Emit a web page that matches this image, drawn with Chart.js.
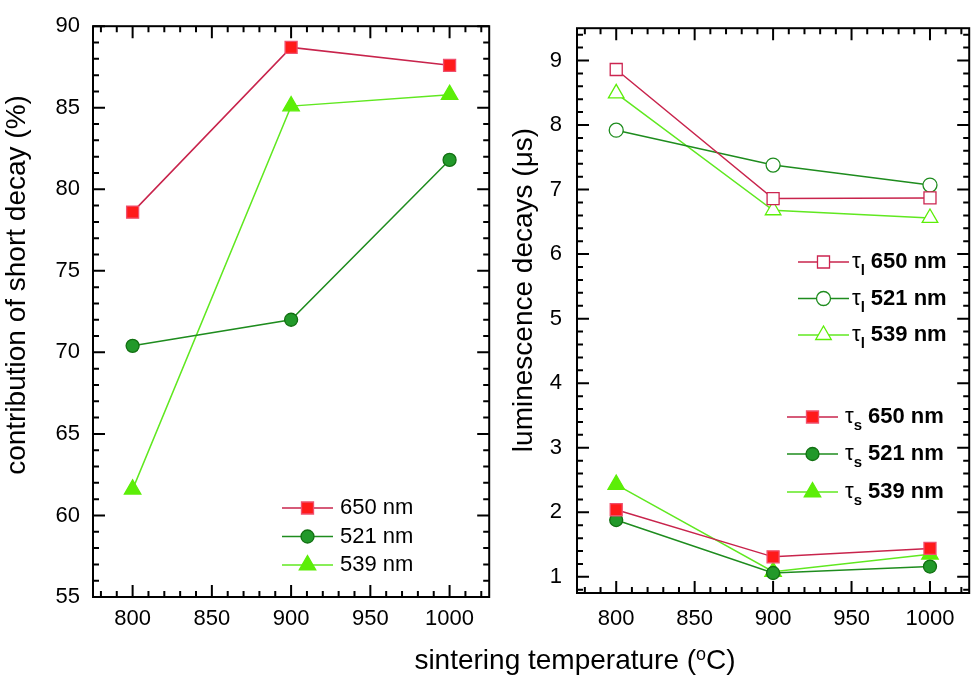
<!DOCTYPE html>
<html lang="en">
<head>
<meta charset="UTF-8">
<title>Decay vs sintering temperature</title>
<script src="https://cdn.jsdelivr.net/npm/chart.js"></script>
<style>
  body { margin: 0; background: #fff; font-family: "Liberation Sans", Arial, sans-serif; }
  .wrap { position: relative; width: 980px; height: 679px; }
  #left { position: absolute; left: 0; top: 0; }
  #right { position: absolute; left: 500px; top: 0; }
  .xtitle { position: absolute; left: 375px; width: 400px; top: 646px; text-align: center;
            font-size: 28px; line-height: 28px; color: #000; white-space: nowrap; }
  .xtitle sup { font-size: 18px; vertical-align: 9px; line-height: 0; }
</style>
</head>
<body>
<div class="wrap">
  <canvas id="left" width="500" height="679"></canvas>
  <canvas id="right" width="480" height="679"></canvas>
  <div class="xtitle">sintering temperature (<sup>o</sup>C)</div>
</div>
<script>
// sintering temperature (C)
const temps = [800, 900, 1000];
const xTicks = [800, 850, 900, 950, 1000];

// left panel: contribution of short decay (%)
const short650 = [78.6, 88.7, 87.6];
const short521 = [70.4, 72.0, 81.8];
const short539 = [61.6, 85.1, 85.8];
const leftTicks = [55, 60, 65, 70, 75, 80, 85, 90];

// right panel: luminescence decays (us), long and short components
const long650 = [8.86, 6.86, 6.87];
const long521 = [7.92, 7.38, 7.07];
const long539 = [8.49, 6.68, 6.56];
const fast650 = [2.04, 1.31, 1.44];
const fast521 = [1.88, 1.06, 1.16];
const fast539 = [2.43, 1.08, 1.35];
const rightTicks = [1, 2, 3, 4, 5, 6, 7, 8, 9];

const RED_LINE = '#c8244c', RED = '#ff1a1a';
const DK_LINE = '#1e8c1e', DK = '#22992a', DK_EDGE = '#127012';
const LT_LINE = '#60e820', LT = '#5cee08';

Chart.defaults.font.family = "'Liberation Sans', Arial, sans-serif";
Chart.defaults.color = '#000';

function series(values, line, style, fill, edge, r) {
  return {
    data: temps.map((t, i) => ({x: t, y: values[i]})),
    borderColor: line, borderWidth: 1.5, tension: 0,
    pointStyle: style, pointRadius: r, pointHoverRadius: r,
    pointBackgroundColor: fill, pointBorderColor: edge, pointBorderWidth: 1.3
  };
}

// frame with inward ticks on all four sides, legend and y title
const decor = {
  id: 'decor',
  afterDatasetsDraw(chart, args, o) {
    const {ctx, chartArea: a, scales: {x, y}} = chart;
    ctx.save();
    ctx.strokeStyle = '#000';
    ctx.lineWidth = 2;
    ctx.strokeRect(a.left, a.top, a.right - a.left, a.bottom - a.top);
    const walk = (scale, minor, major, fn) => {
      const n0 = Math.ceil(scale.min / minor - 1e-6), n1 = Math.floor(scale.max / minor + 1e-6);
      for (let n = n0; n <= n1; n++) {
        const v = n * minor;
        const isMajor = Math.abs(v / major - Math.round(v / major)) < 1e-6;
        fn(scale.getPixelForValue(v), isMajor ? 12 : 6);
      }
    };
    ctx.beginPath();
    walk(x, o.xMinor, o.xMajor, (p, len) => {
      ctx.moveTo(p, a.bottom); ctx.lineTo(p, a.bottom - len);
      ctx.moveTo(p, a.top); ctx.lineTo(p, a.top + len);
    });
    walk(y, o.yMinor, o.yMajor, (p, len) => {
      ctx.moveTo(a.left, p); ctx.lineTo(a.left + len, p);
      ctx.moveTo(a.right, p); ctx.lineTo(a.right - len, p);
    });
    ctx.stroke();

    // legend blocks
    o.legend.forEach(block => {
      block.items.forEach(it => {
        const ds = chart.data.datasets[it.ds];
        ctx.strokeStyle = ds.borderColor;
        ctx.lineWidth = 1.5;
        ctx.beginPath();
        ctx.moveTo(block.x0, it.y); ctx.lineTo(block.x1, it.y);
        ctx.stroke();
        ctx.fillStyle = ds.pointBackgroundColor;
        ctx.strokeStyle = ds.pointBorderColor;
        ctx.lineWidth = ds.pointBorderWidth;
        Chart.helpers.drawPoint(ctx, {pointStyle: ds.pointStyle, radius: ds.pointRadius,
          borderWidth: ds.pointBorderWidth, rotation: 0}, (block.x0 + block.x1) / 2, it.y);
        ctx.fillStyle = '#000';
        ctx.textBaseline = 'middle';
        ctx.textAlign = 'left';
        let tx = block.tx;
        const w = block.bold ? 'bold ' : '';
        if (it.sub) {
          ctx.font = '22px "Liberation Sans", Arial, sans-serif';
          ctx.fillText('\u03c4', tx, it.y);
          tx += ctx.measureText('\u03c4').width;
          ctx.font = w + '15px "Liberation Sans", Arial, sans-serif';
          ctx.fillText(it.sub, tx, it.y + 9);
          tx += ctx.measureText(it.sub).width + 6;
        }
        ctx.font = w + '22px "Liberation Sans", Arial, sans-serif';
        ctx.fillText(it.text, tx, it.y);
      });
    });

    // y axis title
    ctx.save();
    ctx.translate(o.yTitle.x, o.yTitle.y);
    ctx.rotate(-Math.PI / 2);
    ctx.font = '28px "Liberation Sans", Arial, sans-serif';
    ctx.textAlign = 'center';
    ctx.textBaseline = 'middle';
    ctx.fillStyle = '#000';
    ctx.fillText(o.yTitle.text, 0, 0);
    ctx.restore();
    ctx.restore();
  }
};

function makeOptions(cfg) {
  return {
    responsive: false, animation: false, events: [],
    layout: {padding: {top: 14, right: 5, left: 0, bottom: 0}},
    plugins: {legend: {display: false}, tooltip: {enabled: false}, decor: cfg.decor},
    scales: {
      x: {
        type: 'linear', min: 775, max: 1025,
        border: {display: false}, grid: {display: false, drawTicks: false},
        afterBuildTicks: s => { s.ticks = xTicks.map(v => ({value: v})); },
        afterFit: s => { s.height = cfg.xHeight; },
        ticks: {font: {size: 22}, color: '#000', padding: cfg.xPad, maxRotation: 0, autoSkip: false,
                callback: v => String(v)}
      },
      y: {
        type: 'linear', min: cfg.yMin, max: cfg.yMax,
        border: {display: false}, grid: {display: false, drawTicks: false},
        afterBuildTicks: s => { s.ticks = cfg.yTicks.map(v => ({value: v})); },
        afterFit: s => { s.width = cfg.yWidth; },
        ticks: {font: {size: 22}, color: '#000', padding: cfg.yPad, autoSkip: false,
                callback: v => String(v)}
      }
    }
  };
}

new Chart(document.getElementById('left'), {
  type: 'line',
  data: {datasets: [
    series(short650, RED_LINE, 'rect', RED, '#f0506e', 8.5),
    series(short521, DK_LINE, 'circle', DK, DK_EDGE, 6.5),
    series(short539, LT_LINE, 'triangle', LT, LT, 9.5)
  ]},
  options: makeOptions({
    yMin: 55, yMax: 90, yTicks: leftTicks, yWidth: 93, xHeight: 82, xPad: 9, yPad: 13,
    decor: {
      xMinor: 10, xMajor: 50, yMinor: 1, yMajor: 5,
      yTitle: {text: 'contribution of short decay (%)', x: 17, y: 285},
      legend: [{x0: 282, x1: 333, tx: 340, bold: false, items: [
        {ds: 0, y: 508, text: '650 nm'},
        {ds: 1, y: 536.5, text: '521 nm'},
        {ds: 2, y: 565, text: '539 nm'}
      ]}]
    }
  }),
  plugins: [decor]
});

new Chart(document.getElementById('right'), {
  type: 'line',
  data: {datasets: [
    series(long650, RED_LINE, 'rect', '#fff', '#cc2550', 8.5),
    series(long521, DK_LINE, 'circle', '#fff', DK_LINE, 7),
    series(long539, LT_LINE, 'triangle', '#fff', LT, 9),
    series(fast650, RED_LINE, 'rect', RED, '#f0506e', 8.5),
    series(fast521, DK_LINE, 'circle', DK, DK_EDGE, 6.5),
    series(fast539, LT_LINE, 'triangle', LT, LT, 9.5)
  ]},
  options: makeOptions({
    yMin: 0.75, yMax: 9.5, yTicks: rightTicks, yWidth: 77, xHeight: 86, xPad: 13, yPad: 15,
    decor: {
      xMinor: 10, xMajor: 50, yMinor: 0.2, yMajor: 1,
      yTitle: {text: 'luminescence decays (\u03bcs)', x: 24, y: 290},
      legend: [
        {x0: 298, x1: 349, tx: 352, bold: true, items: [
          {ds: 0, y: 262, sub: 'l', text: '650 nm'},
          {ds: 1, y: 298.5, sub: 'l', text: '521 nm'},
          {ds: 2, y: 335, sub: 'l', text: '539 nm'}
        ]},
        {x0: 287, x1: 338, tx: 345, bold: true, items: [
          {ds: 3, y: 417, sub: 's', text: '650 nm'},
          {ds: 4, y: 454, sub: 's', text: '521 nm'},
          {ds: 5, y: 492, sub: 's', text: '539 nm'}
        ]}
      ]
    }
  }),
  plugins: [decor]
});
</script>
</body>
</html>
